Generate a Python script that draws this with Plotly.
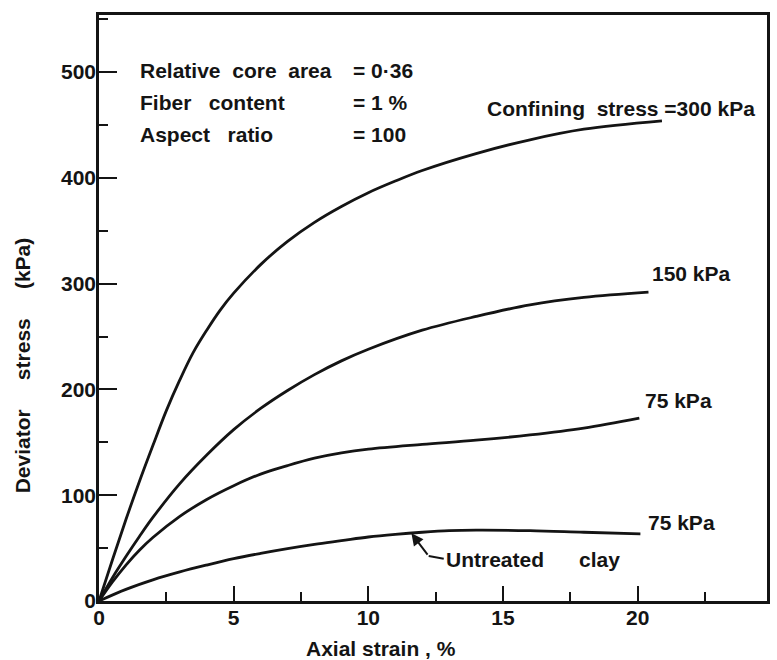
import plotly.graph_objects as go

# ---- data ----
x_300 = [0, 0.5, 1, 1.5, 2, 2.5, 3, 3.5, 4, 4.5, 5, 6, 7, 8, 9, 10, 11, 12, 14, 16, 18, 20.9]
y_300 = [0, 39, 77, 113, 147, 180, 209, 235, 256, 275, 291, 318, 340, 358, 373, 386, 397, 407, 423, 436, 446, 454]

x_150 = [0, 0.5, 1, 1.5, 2, 3, 4, 5, 6, 7, 8, 9, 10, 12, 14, 16, 18, 20.4]
y_150 = [0, 22, 42, 61, 79, 111, 138, 162, 182, 199, 214, 227, 238, 256, 269, 280, 287, 292]

x_75 = [0, 0.5, 1, 1.5, 2, 3, 4, 5, 6, 7, 8, 9, 10, 12, 14, 16, 18, 20.06]
y_75 = [0, 18, 34, 48, 60, 80, 96, 109, 120, 128, 135, 140, 143.5, 148, 152, 157, 163.5, 173]

x_untreated = [0, 1, 2, 3, 4, 5, 6, 7, 8, 9, 10, 11, 12, 13, 14, 16, 18, 20.1]
y_untreated = [0, 11, 20, 27.5, 34, 40, 45, 49.5, 53.5, 57, 60.5, 63, 65, 66.5, 67, 66.5, 65, 63.5]

x_ticks = [0, 5, 10, 15, 20]
y_ticks = [0, 100, 200, 300, 400, 500]

NB = "\u00a0"
info_labels = ["Relative" + NB * 2 + "core" + NB * 2 + "area",
               "Fiber" + NB * 3 + "content",
               "Aspect" + NB * 3 + "ratio"]
info_values = ["= 0·36", "= 1 %", "= 100"]
info_y = [502, 471, 441]

INK = "#141414"
FONT = "Liberation Sans"

fig = go.Figure()
for xs, ys in [(x_300, y_300), (x_150, y_150), (x_75, y_75), (x_untreated, y_untreated)]:
    fig.add_trace(go.Scatter(x=xs, y=ys, mode="lines",
                             line=dict(color=INK, width=2.8, shape="spline", smoothing=1.0),
                             showlegend=False, hoverinfo="skip"))

def txt(x, y, s, anchor="left", size=21):
    fig.add_annotation(x=x, y=y, xref="x", yref="y", text=s, showarrow=False,
                       xanchor=anchor, yanchor="middle",
                       font=dict(family=FONT, size=size, color=INK, weight="bold"))

for lab, val, yy in zip(info_labels, info_values, info_y):
    txt(1.44, yy, lab)
    txt(9.35, yy, val)

txt(14.34, 466, "Confining" + NB * 2 + "stress =300 kPa")
txt(20.44, 310, "150 kPa")
txt(20.18, 190, "75 kPa")
txt(20.3, 74, "75 kPa")
txt(12.8, 39, "Untreated" + NB * 6 + "clay")

# pointer to untreated clay curve
fig.add_annotation(x=11.6, y=64, ax=12.24, ay=42.5, xref="x", yref="y", axref="x", ayref="y",
                   text="", showarrow=True, arrowhead=2, arrowsize=1.2, arrowwidth=2,
                   arrowcolor=INK)
fig.add_shape(type="line", x0=12.24, y0=42.5, x1=12.8, y1=40, xref="x", yref="y",
              line=dict(color=INK, width=2))

# axis titles
fig.add_annotation(x=(22 - 99) / 671, y=(601 - 365) / 586, xref="paper", yref="paper",
                   text="Deviator" + NB * 5 + "stress" + NB * 5 + "(kPa)",
                   textangle=-90, showarrow=False, xanchor="center", yanchor="middle",
                   font=dict(family=FONT, size=21, color=INK, weight="bold"))
fig.add_annotation(x=(382 - 99) / 671, y=(601 - 648) / 586, xref="paper", yref="paper",
                   text="Axial strain , %", showarrow=False,
                   xanchor="center", yanchor="middle",
                   font=dict(family=FONT, size=21, color=INK, weight="bold"))

axis_common = dict(showgrid=False, zeroline=False, showline=True, linecolor=INK,
                   linewidth=2.6, mirror=True, ticks="inside", tickcolor=INK, tickwidth=2.2,
                   tickfont=dict(family=FONT, size=21, color=INK, weight="bold"))

fig.update_xaxes(range=[0, 24.8], tickvals=x_ticks, ticklen=15, ticklabelstandoff=-4,
                 minor=dict(ticks="inside", dtick=2.5, tick0=0, ticklen=9, tickwidth=2.2,
                            tickcolor=INK),
                 **axis_common)
fig.update_yaxes(range=[0, 554], tickvals=y_ticks, ticklen=18, ticklabelstandoff=-4,
                 minor=dict(ticks="inside", dtick=50, tick0=0, ticklen=9, tickwidth=2.2,
                            tickcolor=INK),
                 **axis_common)

fig.update_layout(width=777, height=660, margin=dict(l=99, r=7, t=15, b=59),
                  paper_bgcolor="white", plot_bgcolor="white", showlegend=False)

fig.write_html("out.html")
